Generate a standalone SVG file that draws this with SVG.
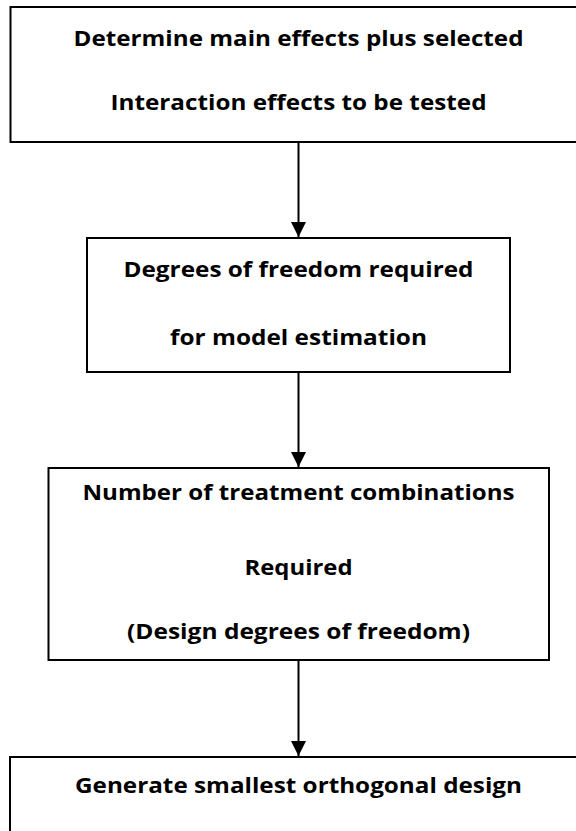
<svg xmlns="http://www.w3.org/2000/svg" width="576" height="831" viewBox="0 0 576 831">
<defs>
<style>
.box{fill:#fff;stroke:#000;stroke-width:2}
.t{font-family:"Open Sans","Liberation Sans",sans-serif;font-weight:bold;font-size:21px;fill:#000;text-anchor:middle}
.c{stroke:#000;stroke-width:2;fill:none}
</style>
<marker id="ah" markerWidth="15" markerHeight="15" refX="15" refY="7.5" orient="auto" markerUnits="userSpaceOnUse" viewBox="0 0 15 15">
<path d="M0,0 L15,7.5 L0,15 Z" fill="#000"/>
</marker>
</defs>
<rect width="576" height="831" fill="#fff"/>
<g id="connectors">
<line class="c" x1="298.5" y1="142" x2="298.5" y2="237" marker-end="url(#ah)"/>
<line class="c" x1="298.5" y1="372" x2="298.5" y2="467" marker-end="url(#ah)"/>
<line class="c" x1="298.5" y1="660" x2="298.5" y2="756" marker-end="url(#ah)"/>
</g>
<g id="node1">
<rect class="box" x="10.5" y="7" width="578" height="135"/>
<text class="t" x="298.5" y="46" textLength="450" lengthAdjust="spacingAndGlyphs">Determine main effects plus selected</text>
<text class="t" x="298.5" y="110" textLength="376" lengthAdjust="spacingAndGlyphs">Interaction effects to be tested</text>
</g>
<g id="node2">
<rect class="box" x="87" y="238" width="423" height="134"/>
<text class="t" x="298.5" y="277" textLength="350" lengthAdjust="spacingAndGlyphs">Degrees of freedom required</text>
<text class="t" x="298.5" y="345" textLength="257" lengthAdjust="spacingAndGlyphs">for model estimation</text>
</g>
<g id="node3">
<rect class="box" x="48.5" y="468" width="500.5" height="192"/>
<text class="t" x="298.5" y="500" textLength="432" lengthAdjust="spacingAndGlyphs">Number of treatment combinations</text>
<text class="t" x="298.5" y="575" textLength="108" lengthAdjust="spacingAndGlyphs">Required</text>
<text class="t" x="298.5" y="639" textLength="343" lengthAdjust="spacingAndGlyphs">(Design degrees of freedom)</text>
</g>
<g id="node4">
<rect class="box" x="10" y="757" width="578" height="100"/>
<text class="t" x="298.5" y="793" textLength="447" lengthAdjust="spacingAndGlyphs">Generate smallest orthogonal design</text>
</g>
</svg>
